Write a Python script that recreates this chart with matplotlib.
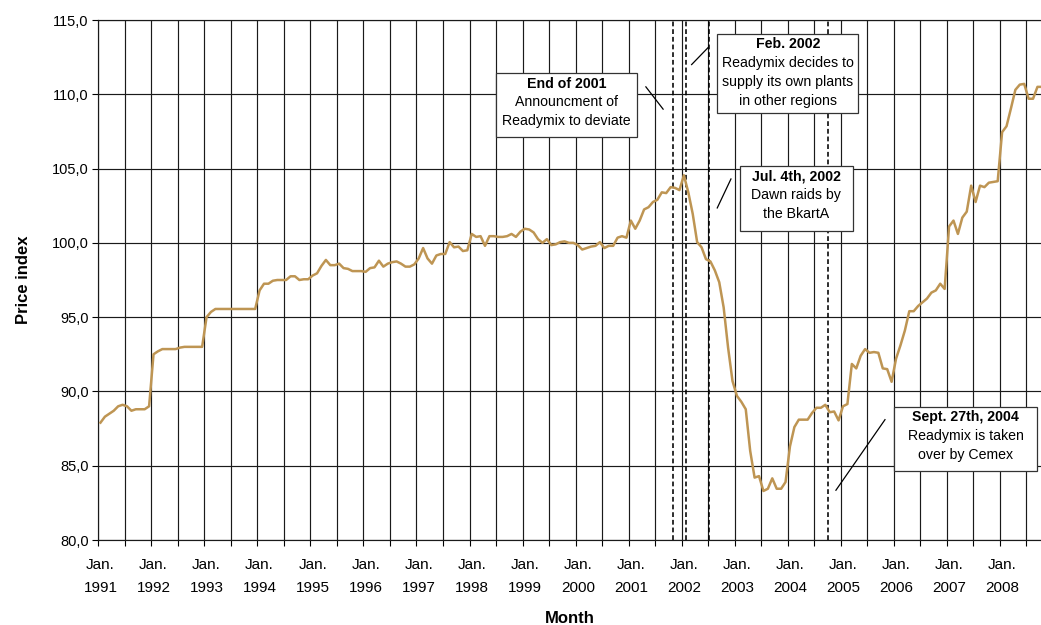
import numpy as np
import matplotlib.pyplot as plt
from matplotlib.patches import Rectangle
from matplotlib.ticker import FuncFormatter

plt.rcParams['font.family'] = ['Liberation Sans', 'DejaVu Sans']

# Monthly price index, one list per year (Jan. 1991 - Oct. 2008)
idx_1991 = [87.9, 88.3, 88.5, 88.7, 89.0, 89.1, 89.0, 88.7, 88.8, 88.8, 88.8, 89.0]
idx_1992 = [92.5, 92.7, 92.85, 92.85, 92.85, 92.85, 92.95, 93.0, 93.0, 93.0, 93.0, 93.0]
idx_1993 = [95.0, 95.35, 95.55, 95.55, 95.55, 95.55, 95.55, 95.55, 95.55, 95.55, 95.55, 95.55]
idx_1994 = [96.8, 97.25, 97.25, 97.45, 97.5, 97.5, 97.5, 97.75, 97.75, 97.5, 97.55, 97.55]
idx_1995 = [97.8, 97.95, 98.45, 98.85, 98.5, 98.5, 98.6, 98.3, 98.25, 98.1, 98.1, 98.1]
idx_1996 = [98.05, 98.3, 98.35, 98.8, 98.4, 98.6, 98.7, 98.75, 98.6, 98.4, 98.4, 98.55]
idx_1997 = [98.95, 99.65, 98.95, 98.6, 99.15, 99.25, 99.25, 100.05, 99.7, 99.75, 99.45, 99.5]
idx_1998 = [100.6, 100.4, 100.45, 99.8, 100.45, 100.45, 100.4, 100.4, 100.45, 100.6, 100.4, 100.75]
idx_1999 = [100.95, 100.9, 100.7, 100.25, 100.0, 100.25, 99.85, 99.9, 100.05, 100.1, 100.0, 100.0]
idx_2000 = [99.85, 99.55, 99.65, 99.75, 99.8, 100.05, 99.65, 99.8, 99.8, 100.35, 100.45, 100.35]
idx_2001 = [101.5, 100.95, 101.5, 102.25, 102.4, 102.75, 102.9, 103.4, 103.35, 103.75, 103.7, 103.55]
idx_2002 = [104.55, 103.4, 101.95, 100.05, 99.7, 98.9, 98.75, 98.15, 97.35, 95.65, 92.95, 90.7]
idx_2003 = [89.7, 89.3, 88.8, 86.0, 84.2, 84.3, 83.3, 83.45, 84.15, 83.45, 83.45, 83.9]
idx_2004 = [86.3, 87.6, 88.1, 88.1, 88.1, 88.55, 88.9, 88.9, 89.1, 88.6, 88.65, 88.05]
idx_2005 = [89.0, 89.15, 91.85, 91.55, 92.4, 92.85, 92.6, 92.65, 92.6, 91.55, 91.5, 90.65]
idx_2006 = [92.2, 93.1, 94.1, 95.4, 95.4, 95.75, 96.0, 96.25, 96.65, 96.8, 97.25, 96.9]
idx_2007 = [101.1, 101.5, 100.6, 101.7, 102.1, 103.85, 102.75, 103.85, 103.75, 104.05, 104.1, 104.15]
idx_2008 = [107.45, 107.85, 109.05, 110.3, 110.65, 110.7, 109.7, 109.7, 110.5, 110.5]

years = list(range(1991, 2009))
price = np.array(idx_1991 + idx_1992 + idx_1993 + idx_1994 + idx_1995 + idx_1996
                 + idx_1997 + idx_1998 + idx_1999 + idx_2000 + idx_2001 + idx_2002
                 + idx_2003 + idx_2004 + idx_2005 + idx_2006 + idx_2007 + idx_2008)
months = np.arange(len(price)) + 0.5   # centre of each monthly slot

# events, in months after 1 Jan. 1991
event_months = [130.1, 133.0, 138.2, 165.2]
note_titles = ['End of 2001', 'Feb. 2002', 'Jul. 4th, 2002', 'Sept. 27th, 2004']
note_bodies = [['Announcment of', 'Readymix to deviate'],
               ['Readymix decides to', 'supply its own plants', 'in other regions'],
               ['Dawn raids by', 'the BkartA'],
               ['Readymix is taken', 'over by Cemex']]

# layout of the notes: box (x0, x1, y0, y1), first line y, line step, pointer line
note_boxes = [(90.1, 121.8, 107.1, 111.4), (140.1, 171.95, 108.75, 114.05),
              (145.2, 170.7, 100.8, 105.2), (180.0, 212.5, 84.65, 88.95)]
note_top = [110.72, 113.36, 104.48, 88.28]
note_step = 1.265
note_ptr = [((123.9, 127.8), (110.5, 109.0)), ((134.25, 138.0), (112.0, 113.15)),
            ((140.05, 143.15), (102.35, 104.3)), ((166.9, 178.0), (83.35, 88.1))]

fig = plt.figure(figsize=(10.41, 6.25), dpi=100)
ax = fig.add_axes([0.0944, 0.136, 0.9056, 0.832])

ax.plot(months, price, color='#BE9553', lw=1.8, zorder=3, solid_joinstyle='round')

for m in event_months:
    ax.axvline(m, color='black', lw=1.15, linestyle=(0, (3.0, 1.8)), zorder=2.5)

for (x0, x1, y0, y1), top, title, body, (px, py) in zip(note_boxes, note_top, note_titles,
                                                        note_bodies, note_ptr):
    ax.add_patch(Rectangle((x0, y0), x1 - x0, y1 - y0, facecolor='white',
                           edgecolor='#333333', lw=0.9, zorder=4))
    xc = (x0 + x1) / 2
    ax.text(xc, top, title, ha='center', va='center', fontsize=10.2,
            fontweight='bold', zorder=5)
    for i, line in enumerate(body):
        ax.text(xc, top - note_step * (i + 1), line, ha='center', va='center',
                fontsize=10.2, zorder=5)
    ax.plot(px, py, color='black', lw=0.9, zorder=4)

ax.set_xlim(0, 213.3)
ax.set_ylim(80, 115)
ax.set_yticks(np.arange(80, 116, 5))
ax.yaxis.set_major_formatter(FuncFormatter(lambda v, p: f'{v:.1f}'.replace('.', ',')))

ax.set_xticks(np.arange(0, 214, 6))
ax.set_xticks(np.arange(len(years)) * 12 + 0.5, minor=True)
ax.set_xticklabels([f'Jan.\n{y}' for y in years], minor=True, linespacing=1.85)
ax.tick_params(axis='x', which='major', length=4, width=0.8, labelbottom=False)
ax.tick_params(axis='x', which='minor', length=0, pad=13, labelsize=11)
ax.tick_params(axis='y', length=4, width=0.8, pad=3, labelsize=10.5)

ax.grid(True, which='major', color='#1a1a1a', lw=0.85)
ax.set_axisbelow(True)
for side in ['left', 'bottom', 'top']:
    ax.spines[side].set_color('#1a1a1a')
    ax.spines[side].set_linewidth(0.85)
ax.spines['right'].set_visible(False)

ax.set_ylabel('Price index', fontsize=12, fontweight='bold', labelpad=15)
ax.set_xlabel('Month', fontsize=12, fontweight='bold', labelpad=11)

fig.savefig('out.png', dpi=100)
